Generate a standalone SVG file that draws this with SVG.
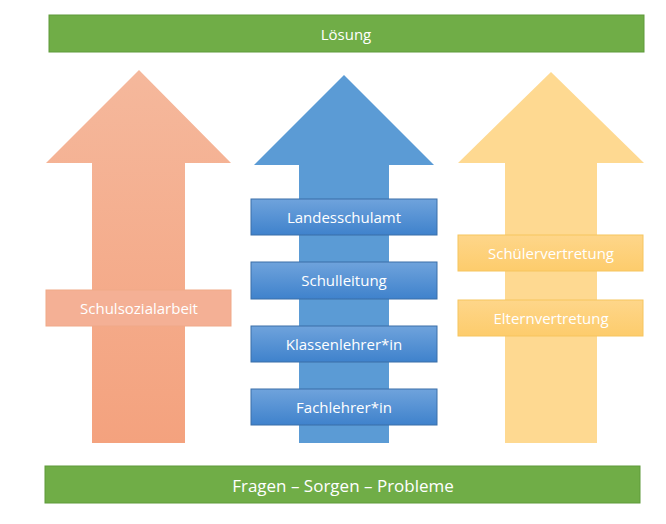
<svg xmlns="http://www.w3.org/2000/svg" width="666" height="524" viewBox="0 0 666 524">
<defs>
<linearGradient id="gb" x1="0" y1="0" x2="0" y2="1"><stop offset="0" stop-color="#6fa3dc"/><stop offset="1" stop-color="#3f82cc"/></linearGradient>
<linearGradient id="go" x1="0" y1="0" x2="0" y2="1"><stop offset="0" stop-color="#f5b89c"/><stop offset="1" stop-color="#f4a27e"/></linearGradient>
<linearGradient id="gy" x1="0" y1="0" x2="0" y2="1"><stop offset="0" stop-color="#fed68a"/><stop offset="1" stop-color="#fdcc6c"/></linearGradient>
</defs>
<style>
text{font-family:"Open Sans","Noto Sans",sans-serif;fill:#fff;text-anchor:middle;dominant-baseline:central}
.g{fill:#70ad47;stroke:#5e9a3a;stroke-width:1}
.b{fill:url(#gb);stroke:#3a6fa8;stroke-width:1}
.o{fill:#f4b095;stroke:#f0a988;stroke-width:1}
.y{fill:url(#gy);stroke:#f6c55f;stroke-width:1}
.t{font-size:15px}
</style>
<g id="top"><rect class="g" x="49" y="15" width="595" height="37"/><text x="346" y="34" class="t" font-size="16">Lösung</text></g>
<g id="bottom"><rect class="g" x="45" y="466" width="595" height="37"/><text x="343" y="485" font-size="17">Fragen – Sorgen – Probleme</text></g>
<g id="arrows">
<polygon points="139,70 231,163 185,163 185,443 92,443 92,163 46,163" fill="url(#go)"/>
<polygon points="344,75 434,165 389,165 389,443 299,443 299,165 254,165" fill="#5b9bd5"/>
<polygon points="551,72 644,163 597,163 597,443 505,443 505,163 458,163" fill="#fed585" opacity="0.9"/>
</g>
<g id="n1"><rect class="o" x="46" y="290" width="185" height="36"/><text x="139" y="308" class="t">Schulsozialarbeit</text></g>
<g id="n2"><rect class="b" x="251" y="199" width="186" height="36"/><text x="344" y="217" class="t">Landesschulamt</text></g>
<g id="n3"><rect class="b" x="251" y="262" width="186" height="37"/><text x="344" y="280" class="t">Schulleitung</text></g>
<g id="n4"><rect class="b" x="251" y="326" width="186" height="36"/><text x="344" y="344" class="t">Klassenlehrer*in</text></g>
<g id="n5"><rect class="b" x="251" y="389" width="186" height="36"/><text x="344" y="407" class="t">Fachlehrer*in</text></g>
<g id="n6"><rect class="y" x="458" y="235" width="185" height="36"/><text x="551" y="253" class="t">Schülervertretung</text></g>
<g id="n7"><rect class="y" x="458" y="300" width="185" height="36"/><text x="551" y="318" class="t">Elternvertretung</text></g>
</svg>
